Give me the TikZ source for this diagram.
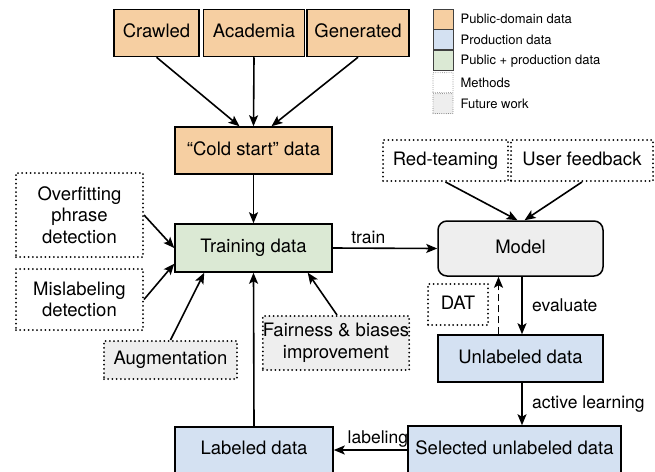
\documentclass[tikz,border=0pt]{standalone}
\usepackage{fontspec}
\setmainfont{TeX Gyre Heros}
\usepackage{tikz}
\usetikzlibrary{arrows,arrows.meta,shapes,positioning}
\usepackage{xcolor}
\definecolor{dforange}{RGB}{246,207,162}
\definecolor{dfblue}{RGB}{212,225,242}
\definecolor{dfgreen}{RGB}{219,233,212}
\definecolor{dfgray}{RGB}{238,238,238}
\tikzstyle{oneline} = [text height=13.5pt, text depth=4pt]
\tikzstyle{pubbox} = [rectangle, oneline, minimum height=47pt, inner sep=0pt, text centered, draw=black, fill=dforange, line width=1.5pt, font=\fontsize{18.5}{21.5}\selectfont]
\tikzstyle{prodbox} = [pubbox, fill=dfblue]
\tikzstyle{mixbox} = [pubbox, fill=dfgreen]
\tikzstyle{method} = [rectangle, inner sep=0pt, align=center, draw=black, line width=2pt, line cap=round, dash pattern=on 0pt off 4.2pt, font=\fontsize{18.5}{21.5}\selectfont]
\tikzstyle{future} = [method, fill=dfgray]
\tikzstyle{legbox} = [rectangle, minimum width=20pt, minimum height=20pt, inner sep=0pt, draw=black!75, line width=0.9pt]
\tikzstyle{legtext} = [anchor=west, inner sep=0pt, font=\fontsize{13}{15}\selectfont]
\tikzstyle{arrow} = [line width=1.6pt,->,>={Stealth[length=11pt,width=9pt,inset=2.5pt]}]
\tikzstyle{lbl} = [font=\fontsize{17.5}{20}\selectfont]

\begin{document}
\begin{tikzpicture}[x=1pt,y=-1pt]
\useasboundingbox (0,0) rectangle (655,471);

% data sources
\node[pubbox, minimum width=85pt] (crawled) at (156.5,33) {Crawled};
\node[pubbox, minimum width=101pt] (academia) at (254,33) {Academia};
\node[pubbox, minimum width=102pt] (generated) at (358,33) {Generated};
\node[pubbox, minimum width=157pt] (cold) at (253.5,150.5) {“Cold start” data};
\node[mixbox, minimum width=157pt, minimum height=48pt] (training) at (253.5,248) {Training data};

% methods around the training data
\node[method, minimum width=127pt, minimum height=84pt] (overfit) at (79.5,215) {Overfitting\\phrase\\detection};
\node[method, minimum width=127pt, minimum height=61pt] (mislabel) at (79.5,299.5) {Mislabeling\\detection};
\node[future, oneline, minimum width=133pt, minimum height=38pt] (augment) at (170.5,360) {Augmentation};
\node[future, minimum width=142pt, minimum height=54pt] (fairness) at (336,343) {Fairness \& biases\\improvement};

% model loop
\node[rectangle, oneline, rounded corners=9pt, draw=black, fill=dfgray, line width=1.5pt, minimum width=165pt, minimum height=55pt, font=\fontsize{18.5}{21.5}\selectfont] (model) at (520.5,248.5) {Model};
\node[method, oneline, minimum width=125pt, minimum height=41pt] (redteam) at (445.5,160.5) {Red-teaming};
\node[method, oneline, minimum width=142pt, minimum height=41pt] (userfb) at (582,160.5) {User feedback};
\node[method, oneline, minimum width=60pt, minimum height=41pt] (dat) at (458,304.5) {DAT};
\node[prodbox, minimum width=165pt] (unlabeled) at (520.5,358.5) {Unlabeled data};
\node[prodbox, minimum width=213pt, minimum height=48pt] (selected) at (514.5,450) {Selected unlabeled data};
\node[prodbox, minimum width=158pt, minimum height=46pt] (labeled) at (254,450) {Labeled data};

\draw[arrow] (crawled.south) -- ([xshift=-14pt]cold.north);
\draw[arrow] (academia.south) -- (cold.north);
\draw[arrow] (generated.south) -- ([xshift=18pt]cold.north);
\draw[arrow] (cold.south) -- (training.north);
\draw[arrow] (overfit.east) -- (training.west);
\draw[arrow] (mislabel.east) -- ([yshift=9pt]training.south west);
\draw[arrow] (augment.north) -- ([xshift=30pt]training.south west);
\draw[arrow] ([xshift=1pt]fairness.north) -- ([xshift=-25pt]training.south east);
\draw[arrow] (labeled.north) -- (training.south);
\draw[arrow] (training.east) -- node[lbl, above, pos=0.34] {train} (model.west);
\draw[arrow] (redteam.south) -- ([xshift=-3pt]model.north);
\draw[arrow] (userfb.south) -- ([xshift=4pt]model.north);
\draw[arrow] ([xshift=1.5pt]model.south) -- node[lbl, right, xshift=6pt] {evaluate} ([xshift=1.5pt]unlabeled.north);
\draw[arrow, dash pattern=on 7pt off 4pt] ([xshift=-22pt]unlabeled.north) -- ([xshift=-22pt]model.south);
\draw[arrow] ([xshift=1.5pt]unlabeled.south) -- node[lbl, right, xshift=6pt] {active learning} ([xshift=1.5pt]unlabeled.south |- selected.north);
\draw[arrow] (selected.west) -- node[lbl, above, pos=0.4, yshift=-1pt] {labeling} (labeled.east);

% legend
\node[legbox, fill=dforange] (legpub) at (443,19) {};
\node[legbox, fill=dfblue, below=0pt of legpub] (legprod) {};
\node[legbox, fill=dfgreen, below=0pt of legprod] (legmix) {};
\node[legbox, draw=black!60, line cap=round, dash pattern=on 0pt off 2.2pt, below=1pt of legmix] (legmeth) {};
\node[legbox, fill=dfgray, draw=black!60, line cap=round, dash pattern=on 0pt off 2.2pt, below=0pt of legmeth] (legfut) {};
\node[legtext, right=7pt of legpub] {Public-domain data};
\node[legtext, right=7pt of legprod] {Production data};
\node[legtext, right=7pt of legmix] {Public + production data};
\node[legtext, right=7pt of legmeth] {Methods};
\node[legtext, right=7pt of legfut] {Future work};
\end{tikzpicture}
\end{document}
